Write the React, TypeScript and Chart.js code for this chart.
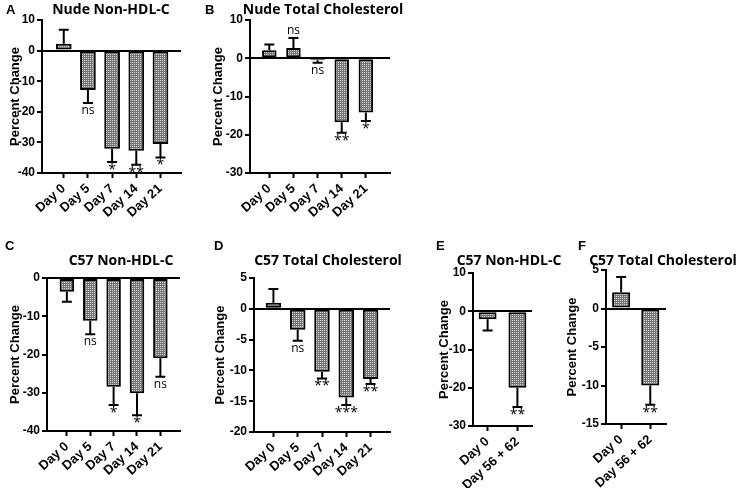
import React, { useEffect, useRef } from "react";
import { Chart, registerables } from "chart.js";

Chart.register(...registerables);

// ---------- data ----------
const daysFive = ["Day 0", "Day 5", "Day 7", "Day 14", "Day 21"];
const daysTwo = ["Day 0", "Day 56 + 62"];

const nudeNonHdlValues = [2.2, -12.9, -32.1, -32.7, -30.5];
const nudeNonHdlErrors = [4.6, 4.2, 4.3, 4.6, 4.4];
const nudeNonHdlMarks = ["", "ns", "*", "**", "*"];

const nudeTotalValues = [2.1, 2.7, -0.5, -16.7, -14.2];
const nudeTotalErrors = [1.5, 2.6, 0.7, 2.8, 2.2];
const nudeTotalMarks = ["", "ns", "ns", "**", "*"];

const c57NonHdlValues = [-3.6, -11.2, -28.4, -30.1, -21.0];
const c57NonHdlErrors = [2.6, 3.5, 4.8, 5.8, 4.8];
const c57NonHdlMarks = ["", "ns", "*", "*", "ns"];

const c57TotalValues = [1.0, -3.4, -10.2, -14.4, -11.4];
const c57TotalErrors = [2.2, 1.8, 1.1, 1.2, 0.8];
const c57TotalMarks = ["", "ns", "**", "***", "**"];

const c57NonHdlLateValues = [-2.1, -20.0];
const c57NonHdlLateErrors = [2.9, 5.0];
const c57NonHdlLateMarks = ["", "**"];

const c57TotalLateValues = [2.1, -10.0];
const c57TotalLateErrors = [2.0, 2.5];
const c57TotalLateMarks = ["", "**"];

// ---------- layout ----------
type Panel = {
  letter: string;
  title: string;
  labels: string[];
  values: number[];
  errors: number[];
  marks: string[];
  yMin: number;
  yMax: number;
  yStep: number;
  box: { left: number; top: number; width: number; height: number };
  area: { left: number; right: number; top: number; bottom: number };
  xMin: number;
  xMax: number;
  barPct: number;
  letterPos: [number, number];
  titlePos: [number, number];
  yTitleX: number;
};

const panels: Panel[] = [
  {
    letter: "A", title: "Nude Non-HDL-C", labels: daysFive,
    values: nudeNonHdlValues, errors: nudeNonHdlErrors, marks: nudeNonHdlMarks,
    yMin: -40, yMax: 10, yStep: 10,
    box: { left: 0, top: 0, width: 200, height: 240 },
    area: { left: 42, right: 181, top: 20, bottom: 173 },
    xMin: -0.9, xMax: 4.85, barPct: 0.65,
    letterPos: [6, 14], titlePos: [111, 14], yTitleX: 15,
  },
  {
    letter: "B", title: "Nude Total Cholesterol", labels: daysFive,
    values: nudeTotalValues, errors: nudeTotalErrors, marks: nudeTotalMarks,
    yMin: -30, yMax: 10, yStep: 10,
    box: { left: 200, top: 0, width: 236, height: 240 },
    area: { left: 250, right: 390, top: 20, bottom: 173 },
    xMin: -0.8, xMax: 5.0, barPct: 0.6,
    letterPos: [205, 14], titlePos: [323, 14], yTitleX: 218.5,
  },
  {
    letter: "C", title: "C57 Non-HDL-C", labels: daysFive,
    values: c57NonHdlValues, errors: c57NonHdlErrors, marks: c57NonHdlMarks,
    yMin: -40, yMax: 0, yStep: 10,
    box: { left: 0, top: 240, width: 200, height: 248 },
    area: { left: 47, right: 180, top: 278, bottom: 431 },
    xMin: -0.85, xMax: 4.84, barPct: 0.62,
    letterPos: [5, 250], titlePos: [121, 265], yTitleX: 15,
  },
  {
    letter: "D", title: "C57 Total Cholesterol", labels: daysFive,
    values: c57TotalValues, errors: c57TotalErrors, marks: c57TotalMarks,
    yMin: -20, yMax: 5, yStep: 5,
    box: { left: 200, top: 240, width: 236, height: 248 },
    area: { left: 254, right: 390, top: 278, bottom: 432 },
    xMin: -0.8, xMax: 4.8, barPct: 0.64,
    letterPos: [214, 250], titlePos: [328, 265], yTitleX: 220.5,
  },
  {
    letter: "E", title: "C57 Non-HDL-C", labels: daysTwo,
    values: c57NonHdlLateValues, errors: c57NonHdlLateErrors, marks: c57NonHdlLateMarks,
    yMin: -30, yMax: 10, yStep: 10,
    box: { left: 430, top: 240, width: 136, height: 248 },
    area: { left: 473, right: 532, top: 273, bottom: 426 },
    xMin: -0.49, xMax: 1.49, barPct: 0.6,
    letterPos: [436, 250], titlePos: [509, 265], yTitleX: 444,
  },
  {
    letter: "F", title: "C57 Total Cholesterol", labels: daysTwo,
    values: c57TotalLateValues, errors: c57TotalLateErrors, marks: c57TotalLateMarks,
    yMin: -15, yMax: 5, yStep: 5,
    box: { left: 560, top: 240, width: 178, height: 248 },
    area: { left: 606, right: 666, top: 270, bottom: 424 },
    xMin: -0.52, xMax: 1.54, barPct: 0.62,
    letterPos: [578, 250], titlePos: [663, 265], yTitleX: 572.5,
  },
];

const SANS = "'Liberation Sans', Arial, sans-serif";
const OPEN = "'Open Sans', 'Noto Sans', sans-serif";

function makePattern(): CanvasPattern | string {
  const c = document.createElement("canvas");
  c.width = 2;
  c.height = 2;
  const g = c.getContext("2d");
  if (!g) return "#8f8f8f";
  g.fillStyle = "#767676";
  g.fillRect(0, 0, 2, 2);
  g.fillStyle = "#d2d2d2";
  g.fillRect(0, 0, 1, 1);
  const pat = g.createPattern(c, "repeat");
  return pat || "#8f8f8f";
}

function errorPlugin(p: Panel) {
  return {
    id: "errorBars" + p.letter,
    afterDatasetsDraw(chart: any) {
      const ctx: CanvasRenderingContext2D = chart.ctx;
      const meta = chart.getDatasetMeta(0);
      const yScale = chart.scales.y;
      ctx.save();
      ctx.strokeStyle = "#000";
      ctx.fillStyle = "#000";
      ctx.lineWidth = 2;
      meta.data.forEach((el: any, i: number) => {
        const v = p.values[i];
        const e = p.errors[i];
        const dir = v >= 0 ? 1 : -1;
        const y0 = yScale.getPixelForValue(v);
        const y1 = yScale.getPixelForValue(v + dir * e);
        const x = el.x;
        ctx.beginPath();
        ctx.moveTo(x, y0);
        ctx.lineTo(x, y1);
        ctx.moveTo(x - 5, y1);
        ctx.lineTo(x + 5, y1);
        ctx.stroke();
        const mark = p.marks[i];
        if (mark) {
          const star = mark.charAt(0) === "*";
          ctx.font = (star ? "14px " : "12px ") + OPEN;
          ctx.textAlign = "center";
          ctx.textBaseline = "alphabetic";
          const ty = dir < 0 ? y1 + (star ? 12 : 11) : y1 - 4;
          ctx.fillText(mark, x, ty);
        }
      });
      ctx.restore();
    },
  };
}

function textPlugin(p: Panel) {
  return {
    id: "panelText" + p.letter,
    afterDraw(chart: any) {
      const ctx: CanvasRenderingContext2D = chart.ctx;
      ctx.save();
      ctx.fillStyle = "#000";
      ctx.textBaseline = "alphabetic";
      ctx.textAlign = "left";
      ctx.font = "bold 13px " + SANS;
      ctx.fillText(p.letter, p.letterPos[0] - p.box.left, p.letterPos[1] - p.box.top);
      ctx.textAlign = "center";
      ctx.font = "bold 14px " + OPEN;
      ctx.fillText(p.title, p.titlePos[0] - p.box.left, p.titlePos[1] - p.box.top);
      ctx.restore();
    },
  };
}

function buildConfig(p: Panel, pattern: CanvasPattern | string): any {
  const yAxisWidth = p.area.left - p.box.left;
  const xAxisHeight = p.box.top + p.box.height - p.area.bottom;
  const yTickFont = { family: SANS, size: 12, weight: "bold" as const };
  const xTickFont = { family: SANS, size: 13, weight: "bold" as const };
  return {
    type: "bar",
    data: {
      datasets: [
        {
          data: p.values.map((v, i) => ({ x: i, y: v })),
          backgroundColor: pattern,
          borderColor: "#000",
          borderWidth: 2,
          borderSkipped: false,
          barPercentage: p.barPct,
          categoryPercentage: 1,
        },
      ],
    },
    options: {
      responsive: false,
      animation: false,
      devicePixelRatio: 1,
      events: [],
      layout: {
        padding: {
          top: p.area.top - p.box.top,
          right: p.box.left + p.box.width - p.area.right,
          bottom: 0,
          left: 0,
        },
      },
      plugins: {
        legend: { display: false },
        tooltip: { enabled: false },
        title: { display: false },
      },
      scales: {
        x: {
          type: "linear",
          min: p.xMin,
          max: p.xMax,
          offset: false,
          afterBuildTicks: (s: any) => {
            s.ticks = p.labels.map((_, i) => ({ value: i }));
          },
          afterFit: (s: any) => {
            s.height = xAxisHeight;
          },
          ticks: {
            callback: (v: any) => p.labels[v] ?? "",
            autoSkip: false,
            maxRotation: 42,
            minRotation: 42,
            color: "#000",
            font: xTickFont,
            padding: 3,
          },
          grid: {
            offset: false,
            drawOnChartArea: false,
            drawTicks: true,
            tickLength: 5,
            tickColor: "#000",
            tickWidth: 2,
          },
          border: { display: true, color: "#000", width: 2 },
        },
        y: {
          min: p.yMin,
          max: p.yMax,
          afterFit: (s: any) => {
            s.width = yAxisWidth;
          },
          ticks: {
            stepSize: p.yStep,
            color: "#000",
            font: yTickFont,
            padding: 2,
          },
          grid: {
            color: (c: any) => (c.tick && c.tick.value === 0 ? "#000" : "rgba(0,0,0,0)"),
            lineWidth: 2,
            drawTicks: true,
            tickLength: 5,
            tickColor: "#000",
            tickWidth: 2,
          },
          border: { display: true, color: "#000", width: 2 },
          title: {
            display: true,
            text: "Percent Change",
            color: "#000",
            font: { family: SANS, size: 13, weight: "bold" },
            padding: { top: Math.max(0, p.yTitleX - p.box.left - 7.8), bottom: 0 },
          },
        },
      },
    },
    plugins: [errorPlugin(p), textPlugin(p)],
  };
}

export default function App() {
  const refs = useRef<(HTMLCanvasElement | null)[]>([]);

  useEffect(() => {
    const pattern = makePattern();
    const charts = panels.map((p, i) => new Chart(refs.current[i] as HTMLCanvasElement, buildConfig(p, pattern)));
    return () => charts.forEach((c) => c.destroy());
  }, []);

  return (
    <div
      style={{
        position: "fixed",
        left: 0,
        top: 0,
        width: 738,
        height: 488,
        background: "#fff",
        overflow: "hidden",
      }}
    >
      {panels.map((p, i) => (
        <canvas
          key={p.letter}
          ref={(el) => {
            refs.current[i] = el;
          }}
          width={p.box.width}
          height={p.box.height}
          style={{
            position: "absolute",
            left: p.box.left,
            top: p.box.top,
            width: p.box.width,
            height: p.box.height,
          }}
        />
      ))}
    </div>
  );
}
